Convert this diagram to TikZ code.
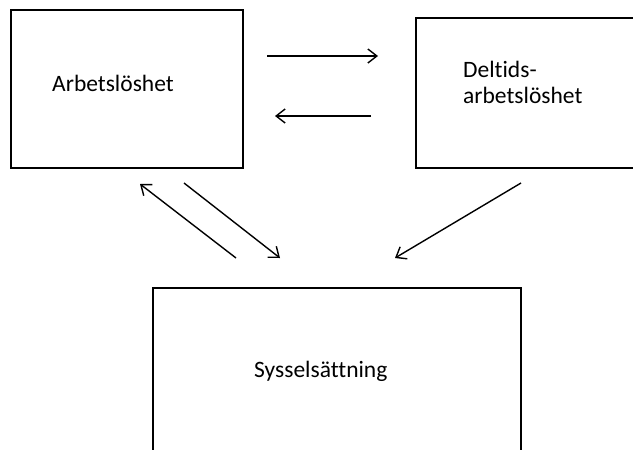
\documentclass[tikz,border=0pt]{standalone}
\usepackage{fontspec}
\setmainfont{Carlito}[Ligatures=NoCommon]
\usetikzlibrary{arrows.meta}

\begin{document}
\begin{tikzpicture}[x=1pt,y=-1pt,
	box/.style={draw=black,line width=2.4pt,inner sep=0pt},
	pil/.style={line width=1.4pt,-{Straight Barb[length=9pt,width=14pt,line width=1.4pt]}},
	txt/.style={anchor=base west,inner sep=0pt,font=\fontsize{23.5}{28}\selectfont}]
	\clip (0,0) rectangle (633,450);
	\fill[white] (0,0) rectangle (633,450);
	% boxes
	\node[box,minimum width=232pt,minimum height=158pt] (arb) at (127,89) {};
	\node[box,minimum width=230pt,minimum height=150pt] (del) at (531,93) {};
	\node[box,minimum width=368pt,minimum height=200pt] (sys) at (337,388) {};
	% texts
	\node[txt] (arbtext) at (52,91) {Arbetslöshet};
	\node[txt] (deltext) at (463,77) {Deltids-};
	\node[txt] (deltext2) at (463,103) {arbetslöshet};
	\node[txt] (systext) at (254,377) {Sysselsättning};
	% arrow ends
	\coordinate (p1) at (267,56);  \coordinate (q1) at (378,56);
	\coordinate (p2) at (371,116); \coordinate (q2) at (275,116);
	\coordinate (p3) at (236,258); \coordinate (q3) at (140,184);
	\coordinate (p4) at (184,183); \coordinate (q4) at (280,258);
	\coordinate (p5) at (521,183); \coordinate (q5) at (395,258);
	\foreach \i in {1,...,5} {
		\draw[pil] (p\i) -- (q\i);
	}
\end{tikzpicture}
\end{document}
